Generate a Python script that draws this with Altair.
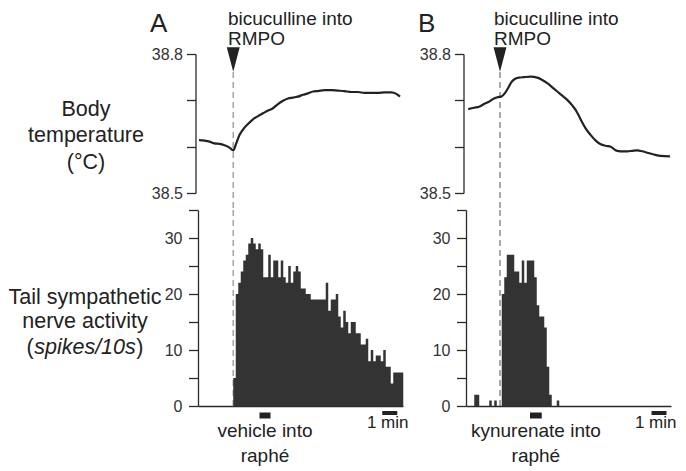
import altair as alt
import pandas as pd

FONT = "Liberation Sans"
INK = "#222222"
BAR = "#333333"

# ---------------- data ----------------
# body temperature traces, time in s relative to bicuculline injection
temp_a_t = [-137, -115, -95, -75, -55, -35, -15, 0, 12, 25, 39, 59, 79, 99, 119, 139, 159, 179,
            199, 219, 239, 259, 279, 299, 319, 339, 365, 392, 419, 445, 472, 499, 525, 552, 579,
            605, 632, 652, 667]
temp_a_c = [38.614, 38.613, 38.611, 38.607, 38.606, 38.603, 38.598, 38.592, 38.607, 38.625,
            38.637, 38.649, 38.659, 38.666, 38.672, 38.678, 38.683, 38.692, 38.699, 38.704,
            38.706, 38.708, 38.712, 38.715, 38.719, 38.720, 38.722, 38.722, 38.721, 38.720,
            38.718, 38.718, 38.716, 38.716, 38.716, 38.717, 38.717, 38.714, 38.708]

temp_b_t = [-127, -104, -84, -64, -44, -24, -8, 5, 19, 32, 45, 59, 76, 96, 123, 149, 169, 189,
            209, 229, 249, 269, 289, 303, 316, 329, 343, 363, 383, 403, 423, 443, 463, 483, 509,
            529, 549, 569, 589, 616, 643, 680]
temp_b_c = [38.681, 38.684, 38.686, 38.692, 38.697, 38.704, 38.707, 38.708, 38.715, 38.726,
            38.739, 38.746, 38.749, 38.750, 38.751, 38.749, 38.744, 38.737, 38.728, 38.719,
            38.710, 38.701, 38.689, 38.679, 38.666, 38.652, 38.639, 38.625, 38.613, 38.605,
            38.602, 38.600, 38.592, 38.590, 38.590, 38.591, 38.592, 38.590, 38.587, 38.583,
            38.580, 38.579]

# tail sympathetic nerve activity, spikes per 10 s bin
BIN_S = 10
hist_a_first_s = 0
hist_a_values = [5, 20, 22, 24, 26, 27, 29, 30, 29, 28, 29, 28, 23, 23, 27, 23, 26, 26, 23, 26,
                 23, 22, 25, 22, 24, 25, 24, 21, 21, 20, 20, 19, 19, 19, 19, 19, 19, 22, 17, 19,
                 19, 20, 16, 14, 17, 15, 13, 15, 15, 13, 13, 11, 11, 12, 8, 10, 8, 9, 9, 8,
                 10, 7, 7, 4, 6, 6, 6, 6]
hist_b_first_s = -103
hist_b_values = [2, 2, 0, 0, 0, 0, 1, 0, 1, 0, 0, 20, 23, 27, 27, 27, 24, 24, 22, 26, 22, 26,
                 26, 26, 23, 18, 16, 16, 14, 7, 2, 0, 0, 1]

domain_a = [-141, 679]
domain_b = [-136, 684]
raphe_a = [105, 149]     # vehicle into raphe
raphe_b = [120, 167]     # kynurenate into raphe
scale_a = [596, 656]     # 1 min
scale_b = [606, 666]

W, H_T, H_H = 205, 139, 196


def hist_frame(first, values):
    t = [first + BIN_S * i for i in range(len(values))]
    v = list(values)
    t.append(first + BIN_S * len(values))
    v.append(values[-1])
    return pd.DataFrame({"t": t, "v": v})


def txt(s, x, y, size=19, align="center", style="normal"):
    return alt.Chart(alt.Data(values=[{}])).mark_text(
        text=s, align=align, baseline="alphabetic", fontSize=size, font=FONT,
        fontStyle=style, color=INK).encode(x=alt.value(x), y=alt.value(y))


def xq(field, dom, axis):
    return alt.X(field, type="quantitative",
                 scale=alt.Scale(domain=dom, nice=False, zero=False), axis=axis)


TRI = "M-0.53,-1L0.53,-1L0,1Z"


def temp_panel(ts, cs, dom, letter, dash_color, dash_w, left_labels):
    df = pd.DataFrame({"t": ts, "c": cs})
    yaxis = alt.Axis(values=[38.5, 38.6, 38.7, 38.8], title=None, offset=2.5, tickSize=9,
                     labelPadding=4,
                     labelExpr="datum.value == 38.5 || datum.value == 38.8 ? format(datum.value, '.1f') : ''")
    line = alt.Chart(df).mark_line(color=INK, strokeWidth=2.2, interpolate="monotone").encode(
        x=xq("t", dom, None),
        y=alt.Y("c:Q", scale=alt.Scale(domain=[38.5, 38.8], nice=False, zero=False), axis=yaxis))
    mark = pd.DataFrame({"t": [0]})
    dash = alt.Chart(mark).mark_rule(color=dash_color, strokeWidth=dash_w,
                                     strokeDash=[6, 4]).encode(
        x=xq("t", dom, None), y=alt.value(18), y2=alt.value(H_T + 17))
    tri = alt.Chart(mark).mark_point(shape=TRI, size=595, filled=True, color=INK,
                                     opacity=1, strokeWidth=0).encode(
        x=xq("t", dom, None), y=alt.value(5.5))
    lx = 30 if letter == "A" else 28
    layers = [dash, line, tri,
              txt(letter, -48, -22, size=26, align="left"),
              txt("bicuculline into", lx, -28.8, align="left"),
              txt("RMPO", lx, -8.6, align="left")]
    if left_labels:
        anchor = alt.Chart(alt.Data(values=[{}])).mark_rule(strokeOpacity=0).encode(
            x=alt.value(-188.5), y=alt.value(-45.5), y2=alt.value(-40))
        layers += [anchor,
                   txt("Body", -112, 61.7, size=21.5),
                   txt("temperature", -112, 87.7, size=21.5),
                   txt("(°C)", -112, 114.5, size=21.5)]
    return alt.layer(*layers).properties(width=W, height=H_T)


def hist_panel(first, values, dom, dash_color, dash_w, raphe, scl, drug, left_labels):
    df = hist_frame(first, values)
    xaxis = alt.Axis(labels=False, ticks=False, domain=True, grid=False, title=None)
    yaxis = alt.Axis(values=[0, 5, 10, 15, 20, 25, 30, 35], title=None, tickSize=9.5,
                     labelPadding=6.5,
                     labelExpr="datum.value % 10 === 0 ? datum.label : ''")
    mark = pd.DataFrame({"t": [0]})
    dash = alt.Chart(mark).mark_rule(color=dash_color, strokeWidth=dash_w,
                                     strokeDash=[6, 4]).encode(
        x=xq("t", dom, xaxis), y=alt.value(0), y2=alt.value(H_H))
    area = alt.Chart(df).mark_area(color=BAR, interpolate="step-after", opacity=1).encode(
        x=xq("t", dom, xaxis),
        y=alt.Y("v:Q", scale=alt.Scale(domain=[0, 35], nice=False), axis=yaxis))
    bars = pd.DataFrame({"t0": [raphe[0]], "t1": [raphe[1]]})
    inj = alt.Chart(bars).mark_rect(color=INK).encode(
        x=xq("t0", dom, xaxis), x2="t1:Q", y=alt.value(202.5), y2=alt.value(208.5))
    sb = pd.DataFrame({"t0": [scl[0]], "t1": [scl[1]]})
    sbar = alt.Chart(sb).mark_rect(color=INK).encode(
        x=xq("t0", dom, xaxis), x2="t1:Q", y=alt.value(201), y2=alt.value(205))
    cx = W * ((raphe[0] + raphe[1]) / 2 - dom[0]) / (dom[1] - dom[0])
    layers = [dash, area, inj, sbar,
              txt("1 min", 189.7, 218, size=17),
              txt(drug + " into", cx, 227),
              txt("raphé", cx, 251.5)]
    if left_labels:
        half = 4.724 * 21.5 / 2
        layers += [txt("Tail sympathetic", -113, 94, size=21.5),
                   txt("nerve activity", -113, 118.3, size=21.5),
                   txt("spikes/10s", -113, 143.6, size=21.5, style="italic"),
                   txt("(", -113 - half - 0.5, 143.6, size=21.5, align="right"),
                   txt(")", -113 + half + 0.5, 143.6, size=21.5, align="left")]
    return alt.layer(*layers).properties(width=W, height=H_H)


tempA = temp_panel(temp_a_t, temp_a_c, domain_a, "A", "#a8a8a8", 1.6, True)
tempB = temp_panel(temp_b_t, temp_b_c, domain_b, "B", "#555555", 1.0, False)
histA = hist_panel(hist_a_first_s, hist_a_values, domain_a, "#a8a8a8", 1.6, raphe_a, scale_a,
                   "vehicle", True)
histB = hist_panel(hist_b_first_s, hist_b_values, domain_b, "#555555", 1.0, raphe_b, scale_b,
                   "kynurenate", False)

chart = alt.concat(tempA, tempB, histA, histB, columns=2,
                   spacing={"row": 17, "column": 63}, bounds="flush").properties(
    padding=0
).configure_view(stroke=None).configure_axis(
    domainColor="#2a2a2a", domainWidth=1.3, tickColor="#2a2a2a", tickWidth=1.3,
    labelColor="#333333", labelFont=FONT, labelFontSize=16, grid=False
)

chart.save("out.html", embed_options={"renderer": "svg", "actions": False})
